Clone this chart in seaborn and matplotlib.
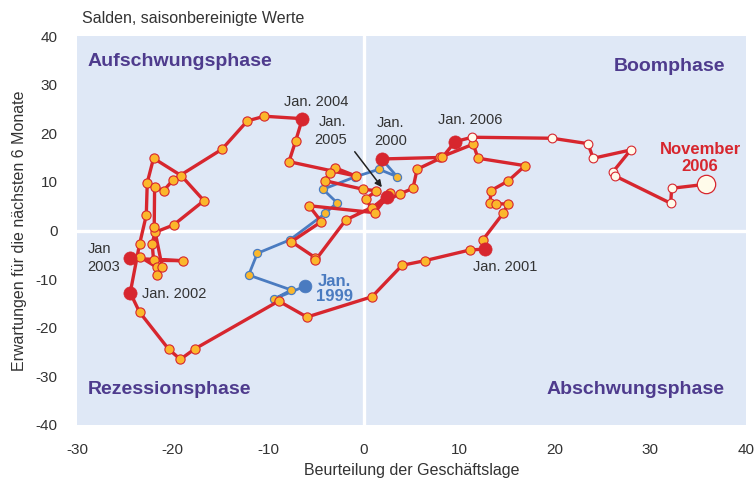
import matplotlib
matplotlib.use("Agg")
import matplotlib.pyplot as plt
import seaborn as sns
import pandas as pd

# ---------------- data (situation = x, expectations = y) ----------------
x_1999 = [-6.10, -9.39, -7.57, -12.04, -11.13, -7.75, -4.01, -2.80, -4.26, -0.94, 1.60, 3.49]
y_1999 = [-11.42, -14.09, -12.24, -9.16, -4.69, -1.95, 3.54, 5.72, 8.48, 11.0, 12.59, 11.07]

x_2000 = [1.88, 7.96, 11.45, 11.97, 16.89, 15.11, 13.30, 13.23, 13.82, 15.11, 14.59, 12.43]
y_2000 = [14.71, 15.02, 17.74, 14.86, 13.33, 10.19, 8.19, 5.72, 5.51, 5.45, 3.54, -2.02]

x_2001 = [12.70, 11.10, 6.39, 4.01, 0.87, -5.94, -8.90, -17.70, -19.19, -20.42, -23.46]
y_2001 = [-3.81, -4.01, -6.21, -7.16, -13.62, -17.80, -14.51, -24.38, -26.50, -24.38, -16.77]

x_2002 = [-24.43, -23.46, -22.75, -22.65, -21.99, -19.09, -16.72, -19.90, -21.85, -22.13, -21.99, -18.88]
y_2002 = [-12.80, -2.84, 3.13, 9.84, 14.86, 11.28, 6.13, 1.13, -0.37, -2.72, -6.13, -6.21]

x_2003 = [-24.43, -23.38, -21.64, -21.64, -21.08, -21.92, -21.88, -20.94, -19.93, -14.83, -12.18, -10.40]
y_2003 = [-5.72, -5.45, -7.57, -9.16, -7.57, 0.66, 8.89, 8.19, 10.45, 16.71, 22.53, 23.50]

x_2004 = [-6.42, -7.12, -7.82, -0.84, -3.04, -3.56, -4.08, -0.07, 1.33, 0.21, 0.84, 2.72]
y_2004 = [23.00, 18.42, 14.16, 11.21, 12.92, 11.77, 10.25, 8.48, 8.19, 6.48, 4.57, 7.65]

x_2005 = [2.44, 1.15, -5.73, -4.43, -7.57, -5.06, -5.06, -1.88, 3.77, 5.16, 5.58, 8.24]
y_2005 = [6.95, 3.66, 5.10, 1.81, -2.30, -5.60, -6.13, 2.16, 7.51, 8.68, 12.59, 15.06]

x_2006 = [9.56, 11.34, 19.72, 23.46, 24.01, 27.93, 26.07, 26.31, 32.12, 32.22, 35.81]
y_2006 = [18.27, 19.18, 18.97, 17.86, 14.86, 16.56, 12.04, 11.21, 5.60, 8.68, 9.51]

x_ticks = [-30, -20, -10, 0, 10, 20, 30, 40]
y_ticks = [-40, -30, -20, -10, 0, 10, 20, 30, 40]

# ---------------- colours ----------------
RED = "#d7262e"
BLUE = "#4a7bc0"
YELLOW = "#fbb72b"
CREAM = "#fffbea"
BG = "#dfe8f6"
PURPLE = "#4e3b8d"
TXT = "#333333"

# ---------------- frames ----------------
blue_df = pd.DataFrame({"x": x_1999 + [x_2000[0]], "y": y_1999 + [y_2000[0]]})
blue_df["order"] = range(len(blue_df))

red_x = x_2000 + x_2001 + x_2002 + x_2003 + x_2004 + x_2005 + x_2006
red_y = y_2000 + y_2001 + y_2002 + y_2003 + y_2004 + y_2005 + y_2006
red_df = pd.DataFrame({"x": red_x, "y": red_y})
red_df["order"] = range(len(red_df))

# yellow markers: 2000..Dec 2005 except January points
yel_x, yel_y = [], []
for xs, ys in [(x_2000, y_2000), (x_2002, y_2002), (x_2003, y_2003), (x_2004, y_2004), (x_2005, y_2005)]:
    yel_x += xs[1:]
    yel_y += ys[1:]
yel_x += x_2001[1:]
yel_y += y_2001[1:]
yel_df = pd.DataFrame({"x": yel_x, "y": yel_y})

jan_df = pd.DataFrame({
    "x": [x_2000[0], x_2001[0], x_2002[0], x_2003[0], x_2004[0], x_2005[0], x_2006[0]],
    "y": [y_2000[0], y_2001[0], y_2002[0], y_2003[0], y_2004[0], y_2005[0], y_2006[0]],
})
white_df = pd.DataFrame({"x": x_2006[1:-1], "y": y_2006[1:-1]})
nov_df = pd.DataFrame({"x": [x_2006[-1]], "y": [y_2006[-1]]})
blue_pts = pd.DataFrame({"x": x_1999[1:], "y": y_1999[1:]})
jan99 = pd.DataFrame({"x": [x_1999[0]], "y": [y_1999[0]]})

# ---------------- figure ----------------
sns.set_theme(style="white")
plt.rcParams["font.family"] = ["Liberation Sans", "DejaVu Sans"]
plt.rcParams["axes.unicode_minus"] = False

fig = plt.figure(figsize=(7.54, 4.79), dpi=100)
ax = fig.add_axes([77 / 754, 1 - 425 / 479, 669 / 754, 389 / 479])
ax.set_facecolor(BG)
for s in ax.spines.values():
    s.set_visible(False)

ax.axhline(0, color="white", lw=2.4, zorder=1)
ax.axvline(0, color="white", lw=2.4, zorder=1)

# blue 1999
sns.lineplot(data=blue_df, x="x", y="y", sort=False, estimator=None, color=BLUE,
             lw=2.0, ax=ax, zorder=2)
sns.scatterplot(data=blue_pts, x="x", y="y", s=34, color=YELLOW, edgecolor=BLUE,
                linewidth=0.9, ax=ax, zorder=3)
sns.scatterplot(data=jan99, x="x", y="y", s=85, color=BLUE, edgecolor=BLUE,
                linewidth=0.5, ax=ax, zorder=3)

# red path
sns.lineplot(data=red_df, x="x", y="y", sort=False, estimator=None, color=RED,
             lw=2.4, ax=ax, zorder=4)
sns.scatterplot(data=yel_df, x="x", y="y", s=44, color=YELLOW, edgecolor=RED,
                linewidth=0.8, ax=ax, zorder=5)
sns.scatterplot(data=white_df, x="x", y="y", s=40, color=CREAM, edgecolor=RED,
                linewidth=0.8, ax=ax, zorder=5)
sns.scatterplot(data=jan_df, x="x", y="y", s=90, color=RED, edgecolor=RED,
                linewidth=0.5, ax=ax, zorder=6)
sns.scatterplot(data=nov_df, x="x", y="y", s=175, color=CREAM, edgecolor=RED,
                linewidth=0.9, ax=ax, zorder=6)

ax.set_xlim(-30, 40)
ax.set_ylim(-40, 40)
ax.set_xticks(x_ticks)
ax.set_yticks(y_ticks)
ax.set_xticklabels([str(v) for v in x_ticks])
ax.set_yticklabels([str(v) for v in y_ticks])
ax.tick_params(axis="both", direction="in", color="white", length=6, width=2,
               labelsize=11, labelcolor=TXT)
ax.tick_params(axis="x", pad=13)
ax.tick_params(axis="y", pad=14)
ax.set_xlabel("Beurteilung der Geschäftslage", fontsize=11.5, color=TXT, labelpad=4)
ax.set_ylabel("Erwartungen für die nächsten 6 Monate", fontsize=11.5, color=TXT, labelpad=6)

# title-like note
fig.text(82 / 754, 1 - 19 / 479, "Salden, saisonbereinigte Werte", fontsize=11.5,
         color=TXT, ha="left", va="center")

# quadrant labels
qkw = dict(fontsize=14, fontweight="bold", color=PURPLE, va="center")
ax.text(-28.9, 34.7, "Aufschwungsphase", ha="left", **qkw)
ax.text(37.8, 33.8, "Boomphase", ha="right", **qkw)
ax.text(-28.9, -32.8, "Rezessionsphase", ha="left", **qkw)
ax.text(37.8, -32.8, "Abschwungsphase", ha="right", **qkw)

# annotations
akw = dict(fontsize=10.5, color=TXT, va="center")
ax.text(-5.0, 26.4, "Jan. 2004", ha="center", **akw)
ax.text(-1.8, 20.5, "Jan.\n2005", ha="right", multialignment="right", linespacing=1.35, **akw)
ax.text(2.8, 20.3, "Jan.\n2000", ha="center", multialignment="center", linespacing=1.35, **akw)
ax.text(11.1, 22.7, "Jan. 2006", ha="center", **akw)
ax.text(14.8, -7.5, "Jan. 2001", ha="center", **akw)
ax.text(-23.2, -13.1, "Jan. 2002", ha="left", **akw)
ax.text(-28.9, -5.7, "Jan\n2003", ha="left", multialignment="left", linespacing=1.35, **akw)
ax.text(-3.1, -12.0, "Jan.\n1999", ha="center", multialignment="center", linespacing=1.0,
        fontsize=12, fontweight="bold", color=BLUE, va="center")
ax.text(35.2, 14.9, "November\n2006", ha="center", multialignment="center", linespacing=1.2,
        fontsize=12, fontweight="bold", color=RED, va="center")

ax.annotate("", xy=(1.9, 8.9), xytext=(-0.94, 16.2),
            arrowprops=dict(arrowstyle="-|>", color="#222222", lw=1.1,
                            mutation_scale=10, shrinkA=0, shrinkB=0), zorder=7)

fig.savefig("out.png", dpi=100)
